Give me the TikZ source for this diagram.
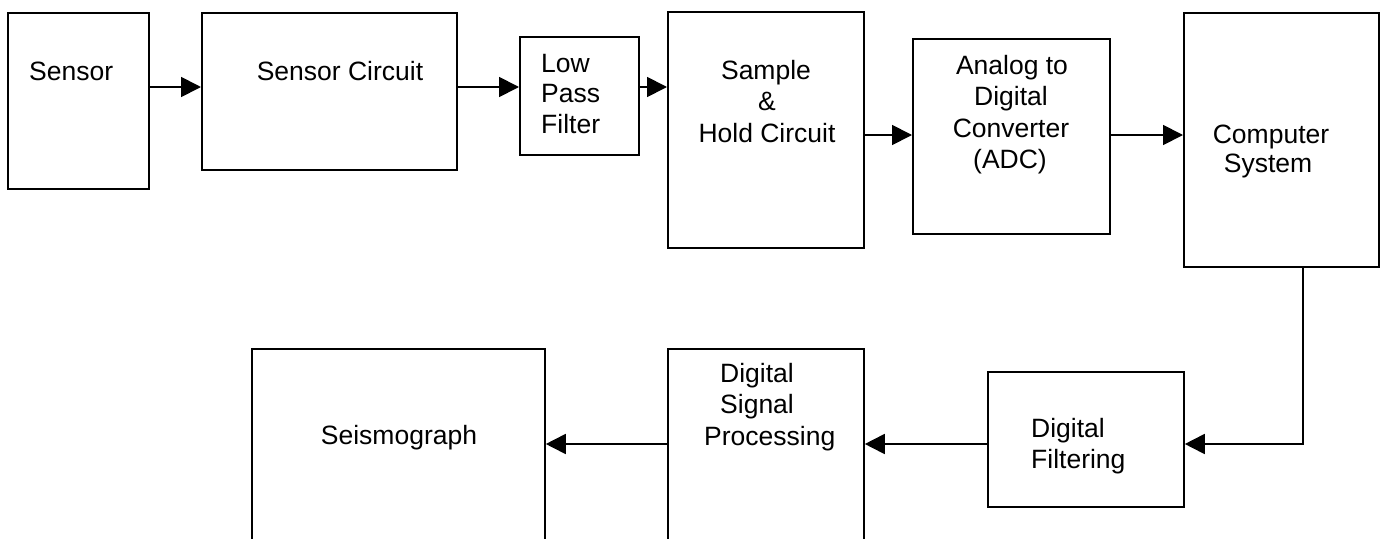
\documentclass[tikz,border=0pt]{standalone}
\usepackage{fontspec}
\setmainfont{Liberation Sans}
\usetikzlibrary{arrows.meta}
\begin{document}
\begin{tikzpicture}[x=1pt,y=-1pt,
  box/.style={draw, line width=1.8pt, rectangle, inner sep=0pt, anchor=north west},
  txt/.style={font=\fontsize{26.5}{31}\selectfont, inner sep=0pt, anchor=base},
  txtl/.style={txt, anchor=base west},
  arr/.style={line width=1.8pt, -{Triangle[length=20pt,width=20pt]}}]
\useasboundingbox (0,0) rectangle (1386,538);
\clip (0,0) rectangle (1386,538);
% boxes
\node[box, minimum width=141pt, minimum height=176pt] (sensor) at (7,12) {};
\node[box, minimum width=255pt, minimum height=157pt] (scirc) at (201,12) {};
\node[box, minimum width=119pt, minimum height=118pt] (lpf) at (519,36) {};
\node[box, minimum width=196pt, minimum height=236pt] (sh) at (667,11) {};
\node[box, minimum width=197pt, minimum height=195pt] (adc) at (912,38) {};
\node[box, minimum width=195pt, minimum height=254pt] (comp) at (1183,12) {};
\node[box, minimum width=196pt, minimum height=135pt] (df) at (987,371) {};
\node[box, minimum width=196pt, minimum height=210pt] (dsp) at (667,348) {};
\node[box, minimum width=293pt, minimum height=210pt] (seis) at (251,348) {};
% texts
\node[txtl] (tsensor) at (29,80) {Sensor};
\node[txt] (tscirc) at (340,80) {Sensor Circuit};
\node[txtl] (tlpf1) at (541,72) {Low};
\node[txtl] (tlpf2) at (541,102) {Pass};
\node[txtl] (tlpf3) at (541,133) {Filter};
\node[txt] (tsh1) at (766,79) {Sample};
\node[txt] (tsh2) at (767,110) {\&};
\node[txt] (tsh3) at (767,142) {Hold Circuit};
\node[txt] (tadc1) at (1012,74) {Analog to};
\node[txt] (tadc2) at (1011,105) {Digital};
\node[txt] (tadc3) at (1011,137) {Converter};
\node[txt] (tadc4) at (1010,168) {(ADC)};
\node[txt] (tcomp1) at (1271,143) {Computer};
\node[txt] (tcomp2) at (1268,172) {System};
\node[txtl] (tdf1) at (1031,437) {Digital};
\node[txtl] (tdf2) at (1031,468) {Filtering};
\node[txtl] (tdsp1) at (720,382) {Digital};
\node[txtl] (tdsp2) at (720,413) {Signal};
\node[txtl] (tdsp3) at (704,445) {Processing};
\node[txt] (tseis) at (399,444) {Seismograph};
% connector levels
\coordinate (r1) at (0,87);
\coordinate (r2) at (0,135);
\coordinate (r3) at (0,444);
\coordinate (turn) at (1303,444);
% connectors
\draw[arr] (sensor.east |- r1) -- (scirc.west |- r1);
\draw[arr] (scirc.east |- r1) -- (lpf.west |- r1);
\draw[arr] (lpf.east |- r1) -- (sh.west |- r1);
\draw[arr] (sh.east |- r2) -- (adc.west |- r2);
\draw[arr] (adc.east |- r2) -- (comp.west |- r2);
\draw[arr] (comp.south -| turn) -- (turn) -- (df.east |- turn);
\draw[arr] (df.west |- r3) -- (dsp.east |- r3);
\draw[arr] (dsp.west |- r3) -- (seis.east |- r3);
\end{tikzpicture}
\end{document}
